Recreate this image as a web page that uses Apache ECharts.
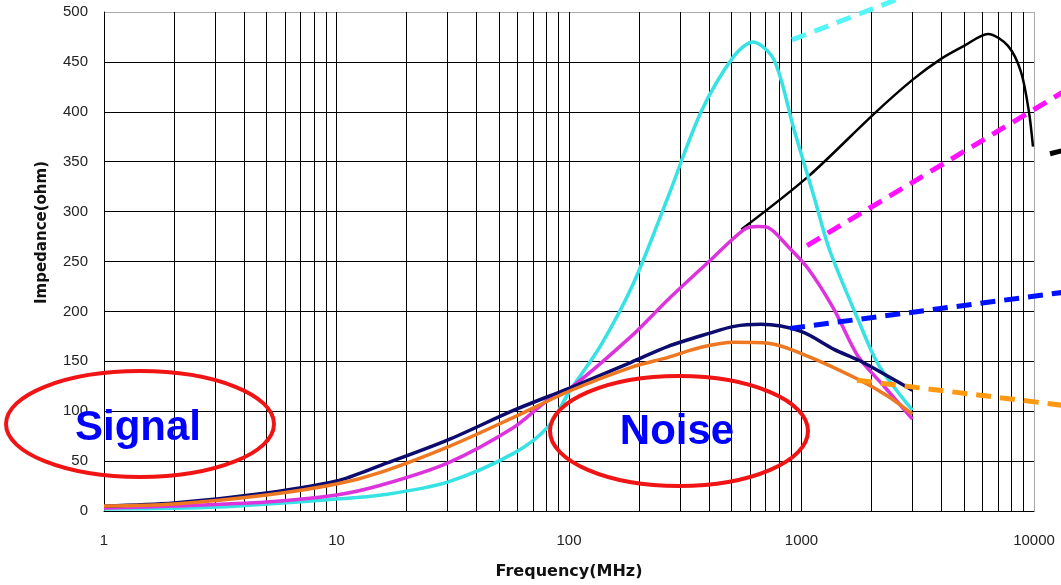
<!DOCTYPE html>
<html>
<head>
<meta charset="utf-8">
<script src="https://cdn.jsdelivr.net/npm/echarts@6/dist/echarts.min.js"></script>
<style>
  html, body { margin: 0; padding: 0; background: #fff; }
  #chart { width: 1061px; height: 585px; }
</style>
</head>
<body>
<div id="chart"></div>
<script>
// impedance curves (MHz, ohm)
const navyFreq = [1, 2, 5, 10, 15.6, 30, 58, 100, 185, 267, 400, 513, 670, 995, 1380, 1800, 2355, 3000];
const navyZ = [5, 8, 18, 30, 46, 71, 101, 123, 149, 165, 178, 185, 187, 180, 162, 150, 135, 121];

const orangeFreq = [1, 2, 5, 10, 15.6, 30, 58, 100, 185, 267, 370, 513, 719, 1067, 1750, 2355, 3000];
const orangeZ = [5, 7, 16, 27, 39, 64, 94, 120, 144, 154, 164, 169, 168, 155, 132, 115, 97];

const magentaFreq = [1, 2, 5, 10, 15.6, 30, 58, 81, 100, 185, 267, 400, 566, 650, 719, 875, 1067, 1380, 1750, 2264, 3000];
const magentaZ = [3, 5, 9, 16, 26, 48, 84, 111, 122, 175, 212, 250, 282, 285, 284, 265, 243, 202, 155, 125, 92];

const cyanFreq = [1, 3.1, 10, 15.6, 30, 58, 81, 100, 137, 190, 267, 370, 513, 618, 762, 929, 1132, 1318, 1750, 2150, 3000];
const cyanZ = [2, 4, 12, 16, 29, 58, 84, 119, 166, 229, 315, 400, 456, 470, 452, 382, 315, 262, 192, 146, 101];

const blackFreq = [551, 1067, 2051, 3000, 3983, 5000, 6340, 7730, 8790, 9510, 9900];
const blackZ = [282, 335, 398, 432, 453, 466, 478, 466, 440, 400, 365];

// dashed pointer lines (they run past the plot edge, so they sit on a wider hidden grid)
const cyanDashFreq = [910, 2872];
const cyanDashZ = [472, 517];
const magentaDashFreq = [1057, 14290];
const magentaDashZ = [266, 424];
const blueDashFreq = [893, 14290];
const blueDashZ = [183, 220];
const orangeDashFreq = [1733, 14290];
const orangeDashZ = [131, 105];
const blackDashFreq = [11720, 14290];
const blackDashZ = [358, 363];

const yTicks = [0, 50, 100, 150, 200, 250, 300, 350, 400, 450, 500];

function pairs(xs, ys) {
    return xs.map(function (x, i) { return [x, ys[i]]; });
}

function curve(name, xs, ys, color, width) {
    return {
        name: name, type: 'line', data: pairs(xs, ys), smooth: 0.3,
        showSymbol: false, symbol: 'none', clip: false,
        lineStyle: { color: color, width: width }
    };
}

function pointer(name, xs, ys, color) {
    return {
        name: name, type: 'line', data: pairs(xs, ys),
        xAxisIndex: 1, yAxisIndex: 1,
        showSymbol: false, symbol: 'none', z: 3,
        lineStyle: { color: color, width: 5, type: [15, 9] }
    };
}

const chart = echarts.init(document.getElementById('chart'));
chart.setOption({
    animation: false,
    backgroundColor: '#fff',
    grid: [
        { left: 104, right: 27, top: 12, bottom: 74 },
        // same scale as the main grid, stretched to the canvas edges
        { left: 104, right: 0, top: 0, bottom: 74 }
    ],
    xAxis: [{
        type: 'log', logBase: 10, min: 1, max: 10000,
        name: 'Frequency(MHz)', nameLocation: 'middle', nameGap: 53,
        nameTextStyle: { fontFamily: 'DejaVu Sans', fontWeight: 'bold', fontSize: 16, color: '#111' },
        axisLine: { lineStyle: { color: '#000', width: 1 } },
        axisTick: { show: false },
        axisLabel: {
            margin: 22, color: '#222', fontFamily: 'Liberation Sans', fontSize: 15,
            formatter: function (v) { return String(v); }
        },
        splitLine: { show: true, lineStyle: { color: ['#000', '#000', '#000', '#000', '#aaa'], width: 1 } },
        minorTick: { show: false, splitNumber: 9 },
        minorSplitLine: { show: true, lineStyle: { color: '#000', width: 1 } }
    }, {
        type: 'log', logBase: 10, gridIndex: 1, min: 1, max: Math.pow(10, 957 / 232.5), show: false
    }],
    yAxis: [{
        type: 'value', min: 0, max: 500, interval: 50,
        name: 'Impedance(ohm)', nameLocation: 'middle', nameGap: 54,
        nameTextStyle: { fontFamily: 'DejaVu Sans', fontWeight: 'bold', fontSize: 15, color: '#111', padding: [0, 0, 0, 58] },
        axisLine: { show: true, lineStyle: { color: '#000', width: 1 } },
        axisTick: { show: false },
        axisLabel: { margin: 16, color: '#222', fontFamily: 'Liberation Sans', fontSize: 15 },
        splitLine: {
            show: true,
            lineStyle: { color: yTicks.map(function (t) { return t === 500 ? '#aaa' : '#000'; }), width: 1 }
        }
    }, {
        type: 'value', gridIndex: 1, min: 0, max: 500 * 511 / 499, show: false
    }],
    series: [
        curve('black', blackFreq, blackZ, '#000', 2.5),
        curve('cyan', cyanFreq, cyanZ, '#36E2E4', 3.5),
        curve('magenta', magentaFreq, magentaZ, '#DD33DD', 3.5),
        curve('navy', navyFreq, navyZ, '#0C0C6E', 3.5),
        curve('orange', orangeFreq, orangeZ, '#EE7722', 3.5),
        pointer('cyanDash', cyanDashFreq, cyanDashZ, '#55F5F8'),
        pointer('magentaDash', magentaDashFreq, magentaDashZ, '#FF11FF'),
        pointer('blueDash', blueDashFreq, blueDashZ, '#0011FF'),
        pointer('orangeDash', orangeDashFreq, orangeDashZ, '#FF9911'),
        pointer('blackDash', blackDashFreq, blackDashZ, '#000')
    ],
    graphic: [
        { type: 'ellipse', z: 100, shape: { cx: 140, cy: 424, rx: 134, ry: 53 },
          style: { fill: 'none', stroke: '#F01414', lineWidth: 4 } },
        { type: 'ellipse', z: 100, shape: { cx: 679, cy: 431, rx: 129, ry: 55 },
          style: { fill: 'none', stroke: '#F01414', lineWidth: 4 } },
        { type: 'text', z: 101, x: 138, y: 428,
          style: { text: 'Signal', fill: '#0000FF', font: 'bold 42px "Liberation Sans"', align: 'center', verticalAlign: 'middle' } },
        { type: 'text', z: 101, x: 677, y: 432,
          style: { text: 'Noise', fill: '#0000FF', font: 'bold 42px "Liberation Sans"', align: 'center', verticalAlign: 'middle' } }
    ]
});
</script>
</body>
</html>
